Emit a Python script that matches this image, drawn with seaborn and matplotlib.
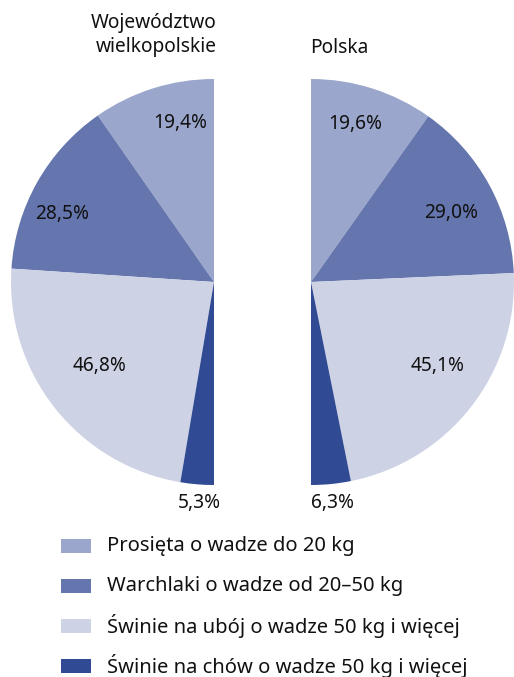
import matplotlib
matplotlib.use("Agg")
import matplotlib.pyplot as plt
from matplotlib.patches import Rectangle
import seaborn as sns

sns.set_theme(style="white")
plt.rcParams['font.family'] = ['Noto Sans', 'DejaVu Sans']

categories = ["Prosięta o wadze do 20 kg",
              "Warchlaki o wadze od 20–50 kg",
              "Świnie na ubój o wadze 50 kg i więcej",
              "Świnie na chów o wadze 50 kg i więcej"]
wlkp_values = [19.4, 28.5, 46.8, 5.3]
polska_values = [19.6, 29.0, 45.1, 6.3]
wlkp_labels = ["19,4%", "28,5%", "46,8%", "5,3%"]
polska_labels = ["19,6%", "29,0%", "45,1%", "6,3%"]
colors = ["#9aa6cb", "#6575ad", "#cdd2e5", "#304a93"]

W, H = 514, 677
fig = plt.figure(figsize=(W / 100, H / 100), dpi=100)
ax = fig.add_axes([0, 0, 1, 1])
ax.set_xlim(0, W)
ax.set_ylim(0, H)
ax.set_aspect("equal")
ax.axis("off")

R = 203
cy = H - 282

def half_pie(values, cx, counterclock):
    vals = list(values) + [sum(values)]
    cols = colors + ["none"]
    wedges, _ = ax.pie(vals, colors=cols, startangle=90, counterclock=counterclock,
                       center=(cx, cy), radius=R, frame=True,
                       wedgeprops=dict(linewidth=0))
    wedges[-1].set_visible(False)

half_pie(wlkp_values, 214, True)
half_pie(polska_values, 311, False)
ax.set_xlim(0, W)
ax.set_ylim(0, H)
ax.axis("off")

fs = 13.8
fl = 14.5
tc = "#111111"
wlkp_pos = [(180, 123), (62, 214), (100, 366), (199, 503)]
pol_pos = [(355, 124), (451, 213), (438, 366), (333, 503)]
for (x, y), t in zip(wlkp_pos, wlkp_labels):
    ax.text(x, H - y, t, ha="center", va="center", fontsize=fs, color=tc)
for (x, y), t in zip(pol_pos, polska_labels):
    ax.text(x, H - y, t, ha="center", va="center", fontsize=fs, color=tc)

ax.text(217, H - 23, "Województwo", ha="right", va="center", fontsize=fs, color=tc)
ax.text(217, H - 47, "wielkopolskie", ha="right", va="center", fontsize=fs, color=tc)
ax.text(310, H - 48, "Polska", ha="left", va="center", fontsize=fs, color=tc)

for i, (c, lab) in enumerate(zip(colors, categories)):
    yc = 546 + 40 * i
    ax.add_patch(Rectangle((61, H - yc - 7), 30, 14, facecolor=c, edgecolor="none"))
    ax.text(107, H - yc, lab, ha="left", va="center", fontsize=fl, color=tc)

fig.savefig("out.png", dpi=100)
